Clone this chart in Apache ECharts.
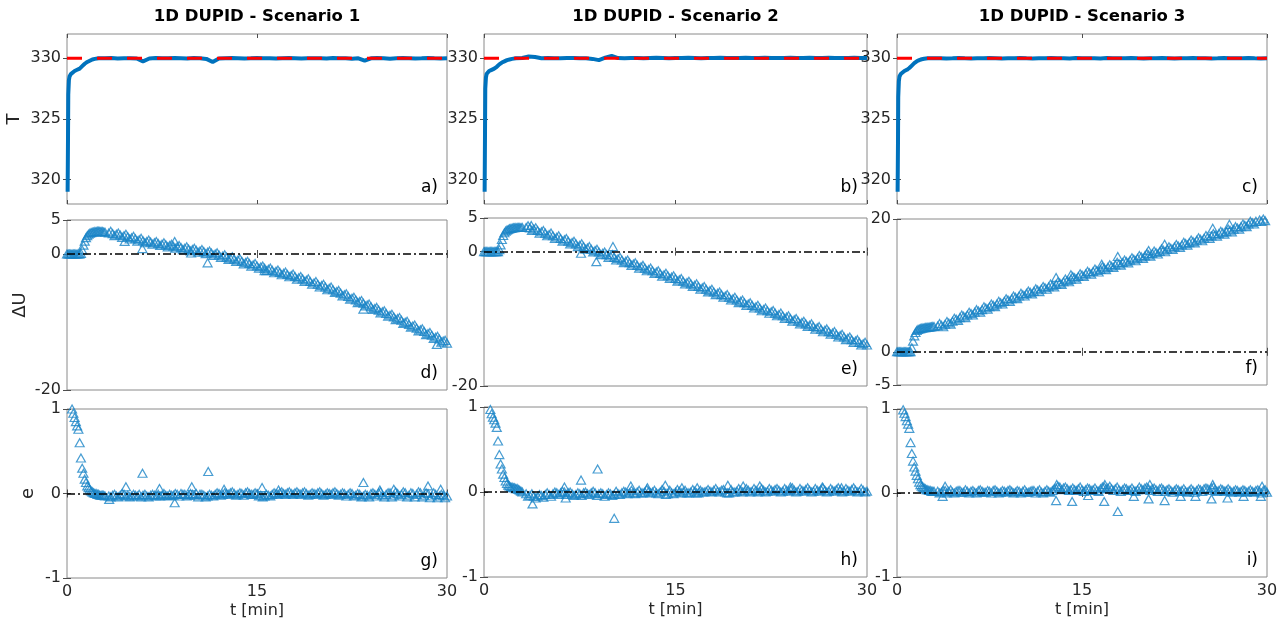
<!DOCTYPE html>
<html><head><meta charset="utf-8">
<script src="https://cdn.jsdelivr.net/npm/echarts@6/dist/echarts.min.js"></script>
<style>html,body{margin:0;padding:0;background:#fff}#c{width:1285px;height:621px}</style>
</head><body><div id="c"></div>
<script>
// ---------------- DATA ----------------
const scenarioTitles = ['1D DUPID - Scenario 1', '1D DUPID - Scenario 2', '1D DUPID - Scenario 3'];
const yNames = ['T', '\u0394U', 'e'];
const xName = 't [min]';
const panelTags = ['a)', 'b)', 'c)', 'd)', 'e)', 'f)', 'g)', 'h)', 'i)'];
const tTicks = [0, 15, 30];
const yTicksT = [320, 325, 330];
const yTicksU12 = [-20, 0, 5];
const yTicksU3 = [-5, 0, 20];
const yTicksE = [-1, 0, 1];

// temperature (time, value)
const tT = [0.05,0.08,0.1,0.15,0.2,0.3,0.4,0.6,0.8,1.0,1.2,1.4,1.6,1.8,2.0,2.2,2.5,
  3,3.5,4,4.5,5,5.5,6,6.5,7,7.5,8,8.5,9,9.5,10,10.5,11,11.5,12,12.5,13,13.5,14,14.5,15,15.5,16,16.5,17,17.5,18,18.5,19,19.5,20,20.5,21,21.5,22,22.5,23,23.5,24,24.5,25,25.5,26,26.5,27,27.5,28,28.5,29,29.5,30];
const T1 = [319.0,323.5,327.0,328.2,328.5,328.7,328.8,328.95,329.05,329.15,329.35,329.55,329.7,329.8,329.9,329.95,330.0,
  330,330.02,329.98,330,330.01,329.98,329.75,329.98,330.02,330,
  330,330.03,330.01,329.98,330.02,330,329.95,329.7,329.98,330,
  330.02,330,329.98,330,330.03,330.01,330,329.98,330,330.02,
  330,329.98,330,330.01,330,329.98,330.02,330,330,329.97,
  330,329.8,330,330.02,330,329.97,330,330.02,330,329.98,
  330,330.03,330,329.98,330];
const T2 = [319.0,324.0,327.5,328.4,328.7,328.85,328.95,329.05,329.15,329.3,329.5,329.65,329.75,329.85,329.9,329.95,330.0,
  330.02,330.15,330.1,330.0,330.02,330,330.01,330.03,330.02,330,
  330.01,329.95,329.85,330.05,330.2,330.02,330,330.03,330.02,330,
  330.02,330.04,330.02,330,330.03,330.02,330.04,330.02,330,330.03,
  330.02,330.04,330.02,330.03,330.02,330.04,330.02,330.03,330.04,330.02,
  330.03,330.02,330.04,330.03,330.02,330.04,330.03,330.02,330.04,330.03,
  330.02,330.03,330.04,330.02,330.03];
const T3 = [319.0,323.0,326.8,328.1,328.5,328.7,328.8,328.95,329.05,329.2,329.4,329.6,329.75,329.85,329.92,329.96,330.0,
  330,330.01,329.99,330,330.02,330,329.99,330.01,330,330.02,
  330,329.98,330.01,330,330.02,330,329.99,330.01,330,330.03,
  330.01,330,329.98,330.02,330,330.01,330,329.99,330.02,330,
  330.01,330,330.02,330,329.99,330.01,330,330.02,330,329.98,
  330.01,330,330.02,330,330.01,329.99,330,330.02,330,330.01,
  330,330.02,330,329.99,330.01];
const tSet = [0, 30];
const Tset = [330, 330];

// control action / error: main sampling times
const tU = [0,0.1,0.2,0.3,0.4,0.5,0.6,0.7,0.8,0.9,1,1.1,1.2,1.3,1.4,1.5,1.6,1.7,1.8,1.9,2,2.1,2.2,2.3,2.4,2.5,2.6,2.7,2.8,2.9,3,
  3.3,3.6,3.9,4.2,4.5,4.8,5.1,5.4,5.7,6,6.3,6.6,6.9,7.2,7.5,7.8,8.1,8.4,8.7,9,9.3,9.6,9.9,10.2,10.5,10.8,11.1,11.4,11.7,12,
  12.3,12.6,12.9,13.2,13.5,13.8,14.1,14.4,14.7,15,15.3,15.6,15.9,16.2,16.5,16.8,17.1,17.4,17.7,18,18.3,18.6,18.9,19.2,19.5,19.8,20.1,20.4,20.7,21,
  21.3,21.6,21.9,22.2,22.5,22.8,23.1,23.4,23.7,24,24.3,24.6,24.9,25.2,25.5,25.8,26.1,26.4,26.7,27,27.3,27.6,27.9,28.2,28.5,28.8,29.1,29.4,29.7,30];
// intermediate sampling times (second set of markers in the band)
const tUb = [3.45,3.75,4.05,4.35,4.65,4.95,5.25,5.55,5.85,6.15,
  6.45,6.75,7.05,7.35,7.65,7.95,8.25,8.55,8.85,9.15,
  9.45,9.75,10.05,10.35,10.65,10.95,11.25,11.55,11.85,12.15,
  12.45,12.75,13.05,13.35,13.65,13.95,14.25,14.55,14.85,15.15,
  15.45,15.75,16.05,16.35,16.65,16.95,17.25,17.55,17.85,18.15,
  18.45,18.75,19.05,19.35,19.65,19.95,20.25,20.55,20.85,21.15,
  21.45,21.75,22.05,22.35,22.65,22.95,23.25,23.55,23.85,24.15,
  24.45,24.75,25.05,25.35,25.65,25.95,26.25,26.55,26.85,27.15,
  27.45,27.75,28.05,28.35,28.65,28.95,29.25,29.55,29.85];

const dU1 = [0,0,0,0,0,0,0,0,0,0,0,0.1,0.6,1.3,1.9,2.4,2.7,2.9,3.05,3.15,3.2,3.25,3.3,3.3,3.35,3.35,3.35,3.3,3.3,3.25,3.2,
  3.1,3.0,2.9,2.8,2.7,2.55,2.4,2.25,2.1,1.95,
  1.85,1.75,1.65,1.55,1.45,1.35,1.25,1.15,1.05,0.95,
  0.85,0.75,0.65,0.55,0.45,0.35,0.25,0.15,0.0,-0.15,
  -0.3,-0.45,-0.6,-0.75,-0.9,-1.05,-1.25,-1.4,-1.6,-1.75,
  -1.9,-2.1,-2.25,-2.4,-2.55,-2.7,-2.85,-3.0,-3.15,-3.3,
  -3.5,-3.65,-3.85,-4.05,-4.25,-4.45,-4.65,-4.85,-5.05,-5.25,
  -5.5,-5.75,-6.0,-6.25,-6.5,-6.75,-7.0,-7.25,-7.5,-7.75,
  -8.0,-8.25,-8.5,-8.75,-9.0,-9.25,-9.5,-9.75,-10.05,-10.35,
  -10.6,-10.9,-11.15,-11.4,-11.7,-11.95,-12.25,-12.5,-12.8,-13.1];
const dU1b = [3.35,2.7,3.1,2.45,2.9,2.2,2.6,1.9,2.3,1.65,
  2.05,1.45,1.85,1.25,1.65,1.05,1.45,0.85,1.25,0.65,
  1.05,0.45,0.85,0.25,0.65,0.05,0.45,-0.2,0.2,-0.5,
  -0.1,-0.8,-0.4,-1.1,-0.7,-1.45,-1.05,-1.8,-1.4,-2.1,
  -1.75,-2.45,-2.05,-2.75,-2.35,-3.05,-2.65,-3.35,-2.95,-3.7,
  -3.3,-4.05,-3.65,-4.45,-4.05,-4.85,-4.45,-5.25,-4.85,-5.65,
  -5.35,-6.15,-5.85,-6.65,-6.35,-7.15,-6.85,-7.65,-7.35,-8.15,
  -7.85,-8.65,-8.35,-9.15,-8.85,-9.65,-9.35,-10.2,-9.9,-10.75,
  -10.45,-11.3,-11.0,-11.85,-11.55,-12.4,-12.1,-12.95,-12.7];
const dU2 = [0,0,0,0,0,0,0,0,0,0,0,0,0.3,1.0,1.8,2.4,2.8,3.05,3.2,3.3,3.4,3.45,3.5,3.55,3.55,3.6,3.6,3.6,3.6,3.6,3.6,
  3.58,3.52,3.35,3.15,2.95,2.75,2.55,2.35,2.15,1.95,
  1.75,1.55,1.35,1.15,0.95,0.75,0.55,0.35,0.15,-0.05,
  -0.25,-0.45,-0.65,-0.85,-1.05,-1.25,-1.45,-1.65,-1.85,-2.05,
  -2.25,-2.45,-2.65,-2.85,-3.05,-3.25,-3.45,-3.6,-3.8,-4.0,
  -4.2,-4.4,-4.6,-4.8,-5.0,-5.2,-5.4,-5.6,-5.8,-6.0,
  -6.2,-6.4,-6.6,-6.8,-7.0,-7.2,-7.4,-7.6,-7.8,-8.0,
  -8.2,-8.4,-8.6,-8.8,-8.95,-9.15,-9.35,-9.55,-9.75,-9.95,
  -10.15,-10.35,-10.55,-10.75,-10.95,-11.15,-11.35,-11.55,-11.7,-11.9,
  -12.1,-12.3,-12.5,-12.7,-12.9,-13.1,-13.3,-13.5,-13.7,-13.9];
const dU2b = [3.85,3.15,3.55,2.75,3.15,2.35,2.75,1.95,2.35,1.55,
  1.95,1.15,1.55,0.75,1.15,0.35,0.75,-0.05,0.35,-0.45,
  -0.05,-0.85,-0.45,-1.25,-0.85,-1.65,-1.25,-2.05,-1.65,-2.45,
  -2.05,-2.85,-2.45,-3.25,-2.85,-3.65,-3.22,-4.0,-3.6,-4.4,
  -4.0,-4.8,-4.4,-5.2,-4.8,-5.6,-5.2,-6.0,-5.6,-6.4,
  -6.0,-6.8,-6.4,-7.2,-6.8,-7.6,-7.2,-8.0,-7.6,-8.4,
  -8.0,-8.8,-8.4,-9.17,-8.75,-9.55,-9.15,-9.95,-9.55,-10.35,
  -9.95,-10.75,-10.35,-11.15,-10.75,-11.55,-11.15,-11.92,-11.5,-12.3,
  -11.9,-12.7,-12.3,-13.1,-12.7,-13.5,-13.1,-13.9,-13.5];
const dU3 = [0,0,0,0,0,0,0,0,0,0,0,0,0.6,1.6,2.4,2.9,3.2,3.35,3.45,3.5,3.55,3.6,3.62,3.65,3.67,3.7,3.72,3.75,3.77,3.8,3.82,
  3.9,4.0,4.15,4.35,4.6,4.9,5.15,5.35,5.55,5.75,
  5.95,6.15,6.35,6.6,6.8,7.0,7.2,7.4,7.6,7.8,
  8.0,8.2,8.4,8.6,8.8,8.95,9.1,9.3,9.45,9.65,
  9.8,10.0,10.15,10.35,10.55,10.75,10.95,11.15,11.35,11.55,
  11.75,11.9,12.1,12.25,12.4,12.6,12.75,12.9,13.1,13.25,
  13.45,13.6,13.8,13.95,14.1,14.3,14.45,14.6,14.8,14.95,
  15.1,15.3,15.45,15.6,15.8,15.95,16.1,16.3,16.45,16.6,
  16.8,16.95,17.1,17.3,17.45,17.6,17.8,17.95,18.1,18.3,
  18.45,18.65,18.85,19.05,19.25,19.45,19.65,19.85,20.0,20.1];
const dU3b = [4.25,3.77,4.55,4.17,5.05,4.72,5.55,5.15,5.95,5.55,
  6.35,5.95,6.77,6.4,7.2,6.8,7.6,7.2,8.0,7.6,
  8.4,8.0,8.8,8.4,9.17,8.72,9.5,9.07,9.85,9.42,
  10.2,9.77,10.55,10.15,10.95,10.55,11.35,10.95,11.75,11.35,
  12.12,11.7,12.47,12.02,12.8,12.37,13.12,12.7,13.47,13.05,
  13.82,13.4,14.17,13.72,14.5,14.07,14.82,14.4,15.17,14.72,
  15.5,15.07,15.82,15.4,16.17,15.72,16.5,16.07,16.82,16.4,
  17.17,16.72,17.5,17.07,17.82,17.4,18.17,17.72,18.5,18.07,
  18.85,18.45,19.25,18.85,19.65,19.25,20.05,19.62,19.75];
const dU1OutT = [4.55,5.95,8.5,9.8,11.1,15.6,23.4,29.2];
const dU1OutV = [1.85,0.8,1.85,0.15,-1.3,-2.45,-8.1,-13.3];
const dU2OutT = [3.7,7.6,8.8,10.1];
const dU2OutV = [3.9,-0.25,-1.5,0.75];
const dU3OutT = [12.9,14.1,16.6,17.9,20.4,21.7,25.6,26.95];
const dU3OutV = [11.2,11.6,13.2,14.35,15.25,16.2,18.6,19.2];

const e1 = [null,null,null,null,1.0,0.95,0.9,0.85,0.8,0.76,0.6,0.42,0.3,0.24,0.17,0.13,0.09,0.07,0.05,0.03,0.02,0.01,0.0,0.0,-0.01,-0.01,-0.02,-0.02,-0.02,-0.02,-0.03,
  -0.03,-0.02,-0.03,-0.02,-0.01,-0.02,-0.03,-0.02,-0.01,-0.02,
  -0.03,-0.02,-0.02,-0.01,-0.02,-0.02,-0.01,-0.02,-0.01,0.0,
  -0.01,-0.02,-0.01,0.0,-0.01,-0.02,-0.03,-0.02,-0.01,0.0,
  -0.01,0.0,0.01,0.0,-0.01,0.0,0.01,0.0,-0.01,0.0,
  -0.02,-0.03,-0.02,-0.01,0.0,0.01,0.0,0.01,0.0,0.01,
  0.0,0.01,0.0,-0.01,0.0,0.01,0.0,-0.01,0.0,0.01,
  0.0,-0.01,0.0,-0.01,0.0,-0.02,-0.01,-0.03,-0.02,0.0,
  -0.01,0.01,-0.02,-0.01,0.01,-0.02,0.0,-0.01,0.01,-0.02,
  0.0,-0.01,0.01,-0.02,0.0,-0.03,-0.01,-0.03,-0.02,-0.03];
const e1b = [-0.04,-0.01,-0.04,0.0,-0.03,-0.04,-0.01,-0.03,-0.04,-0.01,
  -0.04,-0.01,-0.03,-0.03,0.0,-0.03,-0.02,0.0,-0.03,-0.01,
  -0.03,0.0,-0.02,-0.04,-0.01,-0.04,-0.01,-0.03,0.01,-0.02,
  0.01,-0.01,0.02,-0.02,0.01,-0.02,0.02,-0.01,0.01,-0.03,
  -0.04,-0.01,-0.03,0.01,-0.01,0.02,-0.01,0.02,-0.01,0.02,
  -0.01,0.02,-0.02,0.01,-0.01,0.02,-0.02,0.01,-0.01,0.02,
  -0.02,0.01,-0.03,0.01,-0.03,0.0,-0.04,-0.01,-0.04,0.01,
  -0.03,0.02,-0.04,0.01,-0.04,0.02,-0.03,0.02,-0.04,0.01,
  -0.04,0.02,-0.04,0.01,-0.05,0.01,-0.05,-0.01,-0.05];
const e2 = [null,null,null,null,null,0.97,0.92,0.88,0.85,0.81,0.76,0.6,0.44,0.33,0.27,0.21,0.17,0.13,0.1,0.08,0.07,0.06,0.06,0.05,0.05,0.04,0.04,0.03,0.02,0.01,0.0,
  -0.02,-0.04,-0.05,-0.05,-0.04,-0.03,-0.03,-0.02,-0.01,-0.01,
  0.0,-0.01,-0.02,-0.03,-0.02,-0.01,-0.02,-0.01,-0.01,-0.02,
  -0.02,-0.03,-0.02,-0.03,-0.02,-0.01,0.0,-0.01,-0.01,0.0,
  -0.01,0.0,0.01,0.0,-0.01,0.0,0.01,-0.02,-0.01,0.0,
  0.01,0.0,-0.01,0.0,0.01,-0.01,0.0,0.01,0.01,0.02,
  0.01,0.02,0.0,-0.01,0.0,0.01,0.02,0.01,0.02,0.01,
  0.02,0.01,0.02,0.01,0.02,0.03,0.02,0.01,0.02,0.03,
  0.02,0.01,0.02,0.03,0.02,0.01,0.02,0.03,0.02,0.01,
  0.02,0.03,0.02,0.01,0.02,0.03,0.02,0.01,0.02,0.01];
const e2b = [-0.05,-0.02,-0.07,-0.03,-0.06,-0.01,-0.05,0.0,-0.03,0.01,
  -0.03,0.0,-0.04,-0.01,-0.04,0.0,-0.03,0.01,-0.04,-0.01,
  -0.05,-0.01,-0.04,0.01,-0.03,0.01,-0.02,0.02,-0.02,0.02,
  -0.01,0.03,-0.01,0.02,-0.02,0.03,-0.03,0.02,-0.02,0.03,
  -0.01,0.02,-0.01,0.03,-0.01,0.02,0.0,0.03,0.0,0.04,
  0.0,0.03,-0.01,0.03,0.0,0.04,0.0,0.04,0.0,0.04,
  0.0,0.04,0.0,0.04,0.01,0.04,0.0,0.04,0.01,0.05,
  0.0,0.04,0.01,0.05,0.0,0.04,0.01,0.05,0.0,0.04,
  0.01,0.05,0.0,0.04,0.01,0.05,0.0,0.04,0.0];
const e3 = [null,null,null,null,null,0.99,0.95,0.91,0.86,0.82,0.77,0.6,0.47,0.38,0.31,0.26,0.21,0.17,0.13,0.1,0.08,0.07,0.06,0.05,0.04,0.04,0.03,0.03,0.02,0.02,0.02,
  0.02,0.01,0.03,0.02,0.01,0.02,0.03,0.01,0.02,0.02,
  0.01,0.03,0.02,0.01,0.02,0.03,0.02,0.01,0.02,0.03,
  0.02,0.01,0.02,0.02,0.01,0.02,0.03,0.02,0.01,0.02,
  0.02,0.03,0.06,0.07,0.06,0.05,0.04,0.04,0.05,0.04,
  0.04,0.05,0.04,0.03,0.05,0.07,0.06,0.05,0.05,0.04,
  0.04,0.05,0.04,0.03,0.04,0.05,0.06,0.05,0.05,0.04,
  0.05,0.04,0.04,0.03,0.03,0.04,0.03,0.02,0.03,0.03,
  0.03,0.04,0.05,0.05,0.06,0.04,0.03,0.04,0.03,0.03,
  0.02,0.03,0.02,0.03,0.02,0.02,0.03,0.02,0.03,0.01];
const e3b = [0.0,0.03,0.0,0.04,0.0,0.03,0.01,0.04,0.0,0.03,
  0.0,0.04,0.01,0.03,0.0,0.04,0.0,0.03,0.01,0.04,
  0.0,0.03,0.0,0.04,0.01,0.03,0.0,0.04,0.0,0.04,
  0.01,0.05,0.08,0.04,0.07,0.03,0.06,0.03,0.07,0.02,
  0.06,0.03,0.06,0.02,0.07,0.05,0.08,0.03,0.07,0.02,
  0.06,0.03,0.06,0.02,0.07,0.04,0.07,0.03,0.06,0.02,
  0.06,0.02,0.05,0.01,0.05,0.02,0.05,0.01,0.05,0.01,
  0.05,0.02,0.06,0.03,0.07,0.02,0.05,0.02,0.05,0.01,
  0.04,0.01,0.04,0.01,0.04,0.01,0.04,0.0,0.04];
const e1OutT = [3.33,4.65,5.96,7.3,8.5,9.85,11.15,12.4,15.4,16.7,23.4,24.7,25.8,28.5,29.5];
const e1OutV = [-0.07,0.08,0.24,0.06,-0.11,0.08,0.26,0.05,0.07,0.04,0.13,0.04,0.05,0.09,0.05];
const e2OutT = [3.8,6.3,6.4,7.6,8.9,10.2,11.5,12.8,14.2,15.5,16.7,19.1,20.3,21.6,24.0,26.5,28.0];
const e2OutV = [-0.14,0.06,-0.07,0.14,0.27,-0.31,0.07,0.05,0.08,0.05,0.05,0.08,0.07,0.07,0.06,0.06,0.05];
const e3OutT = [3.7,3.9,12.9,12.95,14.2,15.5,16.8,16.85,17.9,19.2,20.4,20.5,21.7,23.0,24.2,25.5,25.6,26.8,28.1,29.5,29.6];
const e3OutV = [-0.04,0.08,-0.09,0.1,-0.1,-0.03,-0.1,0.1,-0.22,-0.04,-0.07,0.1,-0.09,-0.04,-0.04,-0.07,0.1,-0.06,-0.04,-0.04,0.08];

// ---------------- LAYOUT / STYLE ----------------
const FONT = 'DejaVu Sans';
const TXT = '#262626';
const colLeft = [67, 484, 897];
const colWidth = [380, 383, 370];
const rowTop = [[34, 220, 409], [34, 218, 407], [34, 219, 409]];
const rowHeight = [[170, 170, 169], [170, 168, 170], [170, 166, 168]];
const yNameGap = [44, 38, 30];
const yCfg = [
  [{min:318,max:332,ticks:yTicksT},{min:318,max:332,ticks:yTicksT},{min:318,max:332,ticks:yTicksT}],
  [{min:-20,max:5,ticks:yTicksU12},{min:-20,max:5,ticks:yTicksU12},{min:-5,max:20,ticks:yTicksU3}],
  [{min:-1,max:1,ticks:yTicksE},{min:-1,max:1,ticks:yTicksE},{min:-1,max:1,ticks:yTicksE}]
];
const Tser = [T1, T2, T3];
const dUser = [[dU1, dU1b, dU1OutT, dU1OutV], [dU2, dU2b, dU2OutT, dU2OutV], [dU3, dU3b, dU3OutT, dU3OutV]];
const eSer = [[e1, e1b, e1OutT, e1OutV], [e2, e2b, e2OutT, e2OutV], [e3, e3b, e3OutT, e3OutV]];

function pairs(ts, vs) {
  const out = [];
  for (let i = 0; i < ts.length; i++) if (vs[i] !== null) out.push([ts[i], vs[i]]);
  return out;
}

const grids = [], xAxes = [], yAxes = [], series = [], graphics = [];
const tickStyle = {color: '#4d4d4d', width: 1};
const labelStyle = {fontSize: 16, fontFamily: FONT, color: TXT};
const triColor = '#1A84C7';
const zeroLine = {
  silent: true, symbol: ['none', 'none'], label: {show: false},
  lineStyle: {color: '#000', width: 1.5, type: [8, 3, 2, 3]},
  emphasis: {disabled: true}, animation: false,
  data: [{yAxis: 0}]
};

for (let c = 0; c < 3; c++) {
  for (let r = 0; r < 3; r++) {
    const g = grids.length;
    grids.push({left: colLeft[c], top: rowTop[c][r], width: colWidth[c], height: rowHeight[c][r],
      show: true, borderColor: '#8a8a8a', borderWidth: 1, backgroundColor: 'transparent'});
    const yc = yCfg[r][c];
    ['bottom', 'top'].forEach((pos, k) => {
      xAxes.push({type: 'value', gridIndex: g, min: 0, max: 30, position: pos,
        axisLine: {show: false}, splitLine: {show: false},
        axisTick: {show: true, inside: true, length: 4, customValues: tTicks, lineStyle: tickStyle},
        axisLabel: Object.assign({show: r === 2 && k === 0, customValues: tTicks, margin: 6}, labelStyle),
        name: (r === 2 && k === 0) ? xName : '', nameLocation: 'middle', nameGap: 25,
        nameTextStyle: {fontSize: 16, fontFamily: FONT, color: TXT}});
    });
    ['left', 'right'].forEach((pos, k) => {
      yAxes.push({type: 'value', gridIndex: g, min: yc.min, max: yc.max, position: pos,
        axisLine: {show: false}, splitLine: {show: false},
        axisTick: {show: true, inside: true, length: 4, customValues: yc.ticks, lineStyle: tickStyle},
        axisLabel: Object.assign({show: k === 0, customValues: yc.ticks, margin: 6}, labelStyle),
        name: (c === 0 && k === 0) ? yNames[r] : '', nameLocation: 'middle', nameGap: yNameGap[r],
        nameTextStyle: {fontSize: 18, fontFamily: FONT, color: TXT}});
    });
    const xi = 2 * g, yi = 2 * g;
    if (r === 0) {
      series.push({type: 'line', xAxisIndex: xi, yAxisIndex: yi, data: pairs(tT, Tser[c]),
        showSymbol: false, symbol: 'none', silent: true, z: 2, clip: true,
        lineStyle: {color: '#0072BD', width: 4}});
      series.push({type: 'line', xAxisIndex: xi, yAxisIndex: yi, data: pairs(tSet, Tset),
        showSymbol: false, symbol: 'none', silent: true, z: 3,
        lineStyle: {color: '#FF0000', width: 3, type: [15, 15]}});
    } else {
      const src = r === 1 ? dUser[c] : eSer[c];
      const data = pairs(tU, src[0]).concat(pairs(tUb, src[1]), pairs(src[2], src[3]));
      series.push({type: 'scatter', xAxisIndex: xi, yAxisIndex: yi, data: data,
        symbol: 'triangle', symbolSize: [9, 8], silent: true, z: 2,
        itemStyle: {color: 'rgba(0,0,0,0)', borderColor: triColor, borderWidth: 1.2},
        emphasis: {disabled: true},
        markLine: zeroLine});
    }
    graphics.push({type: 'text', x: colLeft[c] + colWidth[c] - 9, y: rowTop[c][r] + rowHeight[c][r] - 16,
      style: {text: panelTags[r * 3 + c], fill: '#000', fontSize: 17, fontFamily: FONT,
        align: 'right', verticalAlign: 'middle', textAlign: 'right', textVerticalAlign: 'middle'}});
  }
  graphics.push({type: 'text', x: colLeft[c] + colWidth[c] / 2, y: 17,
    style: {text: scenarioTitles[c], fill: '#000', fontSize: 16.5, fontWeight: 'bold', fontFamily: FONT,
      align: 'center', verticalAlign: 'middle', textAlign: 'center', textVerticalAlign: 'middle'}});
}

const chart = echarts.init(document.getElementById('c'), null, {renderer: 'canvas', width: 1285, height: 621});
chart.setOption({
  animation: false,
  backgroundColor: '#ffffff',
  grid: grids, xAxis: xAxes, yAxis: yAxes, series: series,
  graphic: graphics
});
</script>
</body></html>
